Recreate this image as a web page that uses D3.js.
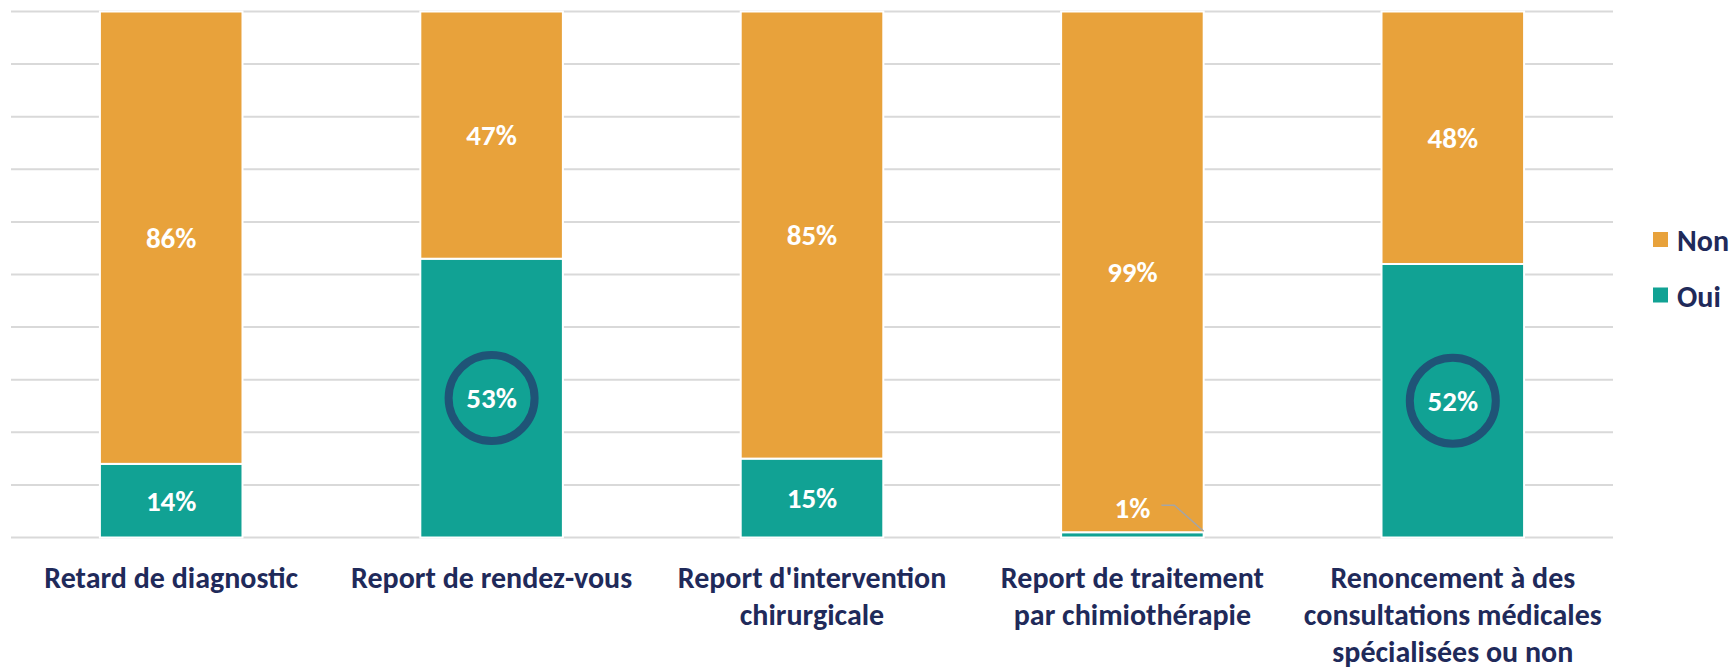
<!DOCTYPE html>
<html>
<head>
<meta charset="utf-8">
<script src="https://cdn.jsdelivr.net/npm/d3@7"></script>
<style>
  html, body { margin: 0; padding: 0; background: #fff; }
  svg { display: block; font-family: Carlito, Calibri, Lato, "Open Sans", sans-serif; }
</style>
</head>
<body>
<svg id="chart" width="1732" height="671"></svg>
<script>
const categories = [
  ["Retard de diagnostic"],
  ["Report de rendez-vous"],
  ["Report d'intervention", "chirurgicale"],
  ["Report de traitement", "par chimiothérapie"],
  ["Renoncement à des", "consultations médicales", "spécialisées ou non"]
];
const oui = [14, 53, 15, 1, 52];
const non = [86, 47, 85, 99, 48];
const highlighted = [1, 4];
const yTicks = [0, 10, 20, 30, 40, 50, 60, 70, 80, 90, 100];

const COLORS = { non: "#E8A23B", oui: "#11A294", text: "#1F2A5A", ring: "#1F5477", grid: "#D9D9D9", leader: "#A5A5A5" };

const svg = d3.select("#chart");
const plotLeft = 11, plotRight = 1613, plotTop = 11.5, plotBottom = 537.5;

const x = d3.scaleBand().domain(d3.range(categories.length)).range([plotLeft, plotRight]).paddingInner(0.555).paddingOuter(0.2775);
const y = d3.scaleLinear().domain([0, 100]).range([plotBottom, plotTop]);

// gridlines
svg.append("g").selectAll("line").data(yTicks).enter().append("line")
  .attr("x1", plotLeft).attr("x2", plotRight)
  .attr("y1", (d) => y(d)).attr("y2", (d) => y(d))
  .attr("stroke", COLORS.grid).attr("stroke-width", 2);

const rows = categories.map((c, i) => ({ i, oui: oui[i], non: non[i] }));
const stack = d3.stack().keys(["oui", "non"])(rows);

stack.forEach((layer) => {
  svg.append("g").selectAll("rect").data(layer).enter().append("rect")
    .attr("x", (d, i) => x(i))
    .attr("width", x.bandwidth())
    .attr("y", (d) => y(d[1]))
    .attr("height", (d) => y(d[0]) - y(d[1]))
    .attr("fill", COLORS[layer.key])
    .attr("stroke", "#fff").attr("stroke-width", 2);
});

// value labels
stack.forEach((layer) => {
  layer.forEach((d, i) => {
    const v = d[1] - d[0];
    const cx = x(i) + x.bandwidth() / 2;
    if (v < 5) {
      // small slice: label placed above with a leader line
      const ly = y(d[1]) - 24;
      svg.append("text").attr("x", cx).attr("y", ly + 10).attr("text-anchor", "middle")
        .attr("font-size", 29).attr("font-weight", 700).attr("fill", "#fff").text(`${v}%`);
      svg.append("polyline")
        .attr("points", `${cx + 29},${ly - 3} ${cx + 42},${ly - 3} ${x(i) + x.bandwidth()},${y(d[1]) - 1}`)
        .attr("fill", "none").attr("stroke", COLORS.leader).attr("stroke-width", 1.5);
      return;
    }
    const cy = (y(d[0]) + y(d[1])) / 2;
    if (layer.key === "oui" && highlighted.includes(i)) {
      svg.append("circle").attr("cx", cx).attr("cy", cy).attr("r", 43)
        .attr("fill", "none").attr("stroke", COLORS.ring).attr("stroke-width", 8);
    }
    svg.append("text").attr("x", cx).attr("y", cy + 10).attr("text-anchor", "middle")
      .attr("font-size", 29).attr("font-weight", 700).attr("fill", "#fff").text(`${v}%`);
  });
});

// category labels
categories.forEach((lines, i) => {
  const t = svg.append("text").attr("x", x(i) + x.bandwidth() / 2).attr("y", 588)
    .attr("text-anchor", "middle").attr("font-size", 30).attr("font-weight", 700).attr("fill", COLORS.text);
  lines.forEach((line, k) => {
    t.append("tspan").attr("x", x(i) + x.bandwidth() / 2).attr("y", 588 + k * 37).text(line);
  });
});

// legend
const legend = [{ key: "non", label: "Non", y: 240 }, { key: "oui", label: "Oui", y: 295.5 }];
legend.forEach((item) => {
  svg.append("rect").attr("x", 1653).attr("y", item.y - 8).attr("width", 15).attr("height", 15).attr("fill", COLORS[item.key]);
  svg.append("text").attr("x", 1677).attr("y", item.y + 11).attr("font-size", 30).attr("font-weight", 700)
    .attr("fill", COLORS.text).text(item.label);
});
</script>
</body>
</html>
